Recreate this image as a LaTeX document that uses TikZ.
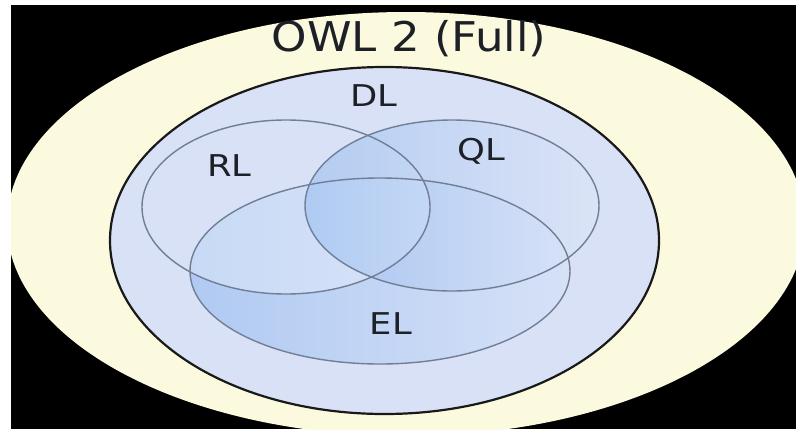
\documentclass[tikz,border=0pt]{standalone}
\usepackage{fontspec}
\setmainfont{DejaVu Sans}
\begin{document}
\begin{tikzpicture}[x=1pt,y=-1pt,
  setline/.style={draw=setedge,line width=1.4pt},
  biglabel/.style={font=\fontsize{41}{41}\selectfont,text=labeltext,xscale=1.1,inner sep=0pt},
  setlabel/.style={font=\fontsize{30}{30}\selectfont,text=labeltext,xscale=1.18,inner sep=0pt}]
\definecolor{cream}{RGB}{252,250,222}
\definecolor{dlfill}{RGB}{216,225,245}
\definecolor{setedge}{RGB}{112,126,150}
\definecolor{dledge}{RGB}{25,25,25}
\definecolor{labeltext}{RGB}{30,32,40}
\definecolor{elleft}{RGB}{176,202,242}
\definecolor{elright}{RGB}{214,225,247}
\definecolor{qlleft}{RGB}{150,188,240}
\definecolor{qlright}{RGB}{222,230,248}
\useasboundingbox (0,0) rectangle (796,429);
% frame
\fill[white] (0,0) rectangle (796,429);
\fill[black] (11,5) rectangle (796,429);
% OWL 2 Full
\begin{scope}
  \clip (11,5) rectangle (796,429);
  \fill[cream] (406,224) ellipse [x radius=399, y radius=212];
\end{scope}
% DL
\fill[dlfill] (384.5,240.5) ellipse [x radius=274.5, y radius=173.5];
% EL
\shade[left color=elleft, right color=elright] (380,271) ellipse [x radius=190, y radius=93];
% RL lightens the part of EL it covers
\begin{scope}
  \clip (380,271) ellipse [x radius=190, y radius=93];
  \fill[white, fill opacity=0.3] (286,207) ellipse [x radius=144, y radius=87];
\end{scope}
% QL
\shade[left color=qlleft, right color=qlright, fill opacity=0.55] (452,205.5) ellipse [x radius=147, y radius=85.5];
% outlines
\draw[setline] (380,271) ellipse [x radius=190, y radius=93];
\draw[setline] (286,207) ellipse [x radius=144, y radius=87];
\draw[setline] (452,205.5) ellipse [x radius=147, y radius=85.5];
\draw[draw=dledge, line width=2.2pt] (384.5,240.5) ellipse [x radius=274.5, y radius=173.5];
% labels
\node[biglabel] (owl) at (409,39) {OWL 2 (Full)};
\node[setlabel] (dl) at (374,96) {DL};
\node[setlabel] (rl) at (229.5,166) {RL};
\node[setlabel] (ql) at (481,151) {QL};
\node[setlabel] (el) at (391,324) {EL};
\end{tikzpicture}
\end{document}
